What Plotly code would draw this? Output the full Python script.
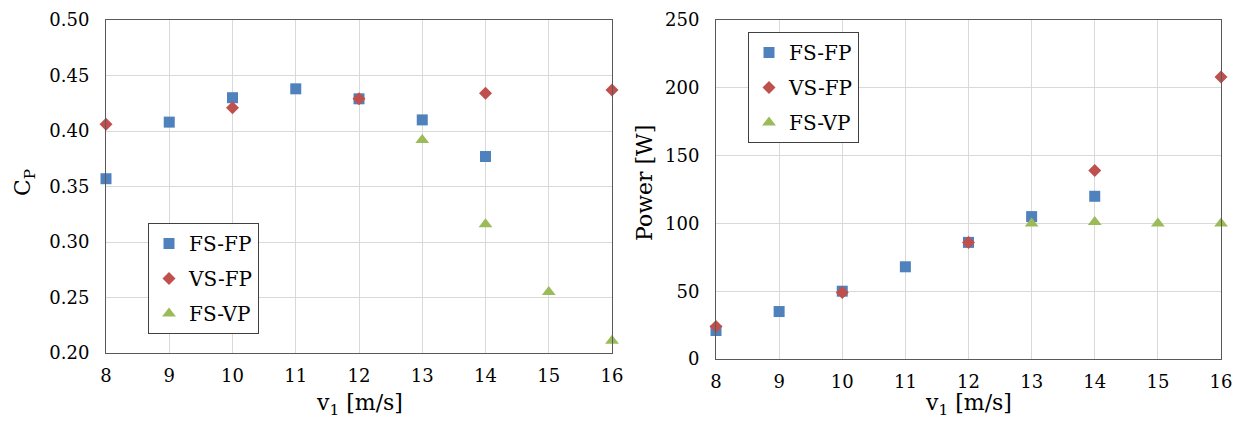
import plotly.graph_objects as go

W, H = 1241, 425

# wind speed [m/s]
v_fsfp = [8, 9, 10, 11, 12, 13, 14]
v_vsfp = [8, 10, 12, 14, 16]
v_fsvp = [13, 14, 15, 16]

# power coefficient
cp_fsfp = [0.357, 0.408, 0.430, 0.438, 0.429, 0.410, 0.377]
cp_vsfp = [0.406, 0.421, 0.429, 0.434, 0.437]
cp_fsvp = [0.392, 0.316, 0.255, 0.211]

# power [W]
p_fsfp = [21, 35, 50, 68, 86, 105, 120]
p_vsfp = [24, 49, 86, 139, 208]
p_fsvp = [100, 101, 100, 100]

x_ticks = [8, 9, 10, 11, 12, 13, 14, 15, 16]
cp_ticks = [0.20, 0.25, 0.30, 0.35, 0.40, 0.45, 0.50]
p_ticks = [0, 50, 100, 150, 200, 250]

names = ["FS-FP", "VS-FP", "FS-VP"]
colors = ["#4F81BD", "#C0504D", "#9BBB59"]
symbols = ["square", "diamond", "triangle-up"]
sizes = [11, 10, 12]

FONT = "DejaVu Serif"

fig = go.Figure()

left_series = [(v_fsfp, cp_fsfp), (v_vsfp, cp_vsfp), (v_fsvp, cp_fsvp)]
right_series = [(v_fsfp, p_fsfp), (v_vsfp, p_vsfp), (v_fsvp, p_fsvp)]

for i, (xs, ys) in enumerate(left_series):
    fig.add_trace(go.Scatter(
        x=xs, y=ys, mode="markers", name=names[i],
        marker=dict(symbol=symbols[i], size=sizes[i], color=colors[i]),
        xaxis="x", yaxis="y", legend="legend", legendgroup=f"a{i}",
        cliponaxis=False,
    ))

for i, (xs, ys) in enumerate(right_series):
    fig.add_trace(go.Scatter(
        x=xs, y=ys, mode="markers", name=names[i],
        marker=dict(symbol=symbols[i], size=sizes[i], color=colors[i]),
        xaxis="x2", yaxis="y2", legend="legend2", legendgroup=f"b{i}",
        cliponaxis=False,
    ))


def px_x(p):
    return p / W


def px_y(p):
    return 1 - p / H


axis_common = dict(
    showgrid=True, gridcolor="#D9D9D9", gridwidth=1,
    showline=True, linecolor="#595959", linewidth=1, mirror=True,
    ticks="", zeroline=False, automargin=False,
    tickfont=dict(family=FONT, size=18, color="#000000"),
)

legend_common = dict(
    xanchor="left", yanchor="top",
    bgcolor="white", bordercolor="#404040", borderwidth=1,
    font=dict(family=FONT, size=20, color="#000000"), tracegroupgap=6,
    itemwidth=30,
)

title_font = dict(family=FONT, size=22, color="#000000")

fig.update_layout(
    width=W, height=H,
    margin=dict(l=0, r=0, t=0, b=0),
    paper_bgcolor="white", plot_bgcolor="white",
    font=dict(family=FONT, color="#000000"),
    showlegend=True,
    xaxis=dict(domain=[px_x(106), px_x(612)], range=[8, 16], tickvals=x_ticks,
               anchor="y", ticklabelstandoff=6, **axis_common),
    yaxis=dict(domain=[px_y(353), px_y(20)], range=[0.20, 0.50], tickvals=cp_ticks,
               tickformat=".2f", anchor="x", ticklabelstandoff=12, **axis_common),
    xaxis2=dict(domain=[px_x(716), px_x(1221)], range=[8, 16], tickvals=x_ticks,
                anchor="y2", ticklabelstandoff=6, **axis_common),
    yaxis2=dict(domain=[px_y(359), px_y(20)], range=[0, 250], tickvals=p_ticks,
                anchor="x2", ticklabelstandoff=12, **axis_common),
    legend=dict(x=px_x(148), y=px_y(223), entrywidth=80, **legend_common),
    legend2=dict(x=px_x(748), y=px_y(32), entrywidth=66, **legend_common),
    annotations=[
        dict(text="v<sub>1</sub> [m/s]", x=px_x(359), y=px_y(404), xref="paper", yref="paper",
             xanchor="center", yanchor="middle", showarrow=False, font=title_font),
        dict(text="v<sub>1</sub> [m/s]", x=px_x(968), y=px_y(404), xref="paper", yref="paper",
             xanchor="center", yanchor="middle", showarrow=False, font=title_font),
        dict(text="C<sub>P</sub>", x=px_x(24), y=px_y(183), xref="paper", yref="paper",
             xanchor="center", yanchor="middle", showarrow=False, textangle=-90,
             font=title_font),
        dict(text="Power [W]", x=px_x(644), y=px_y(183), xref="paper", yref="paper",
             xanchor="center", yanchor="middle", showarrow=False, textangle=-90,
             font=title_font),
    ],
)

fig.write_html("out.html")
